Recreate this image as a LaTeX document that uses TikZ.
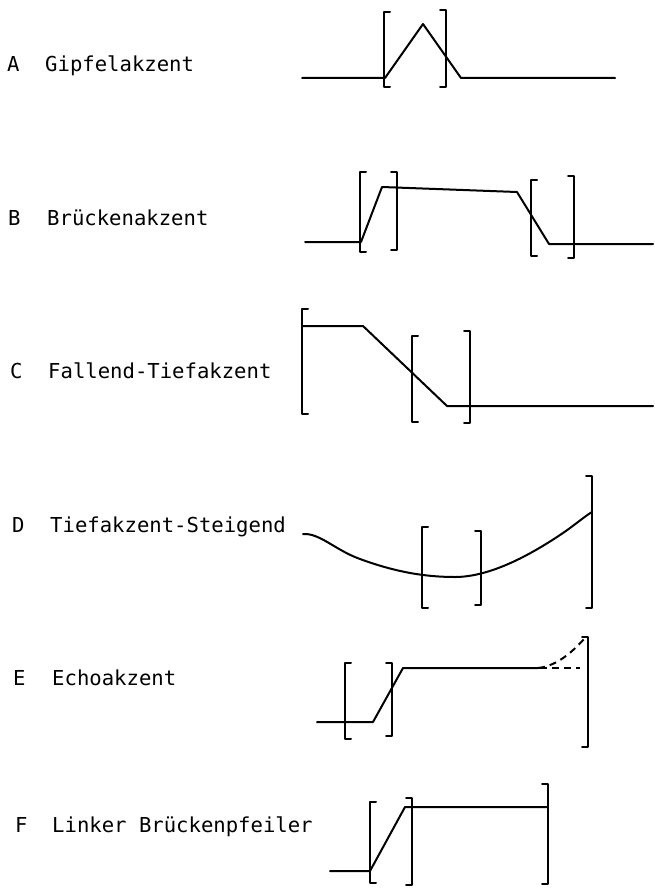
\documentclass[tikz,border=0pt]{standalone}
\usepackage{fontspec}
\setmonofont{DejaVu Sans Mono}
\newcommand\lbrk[3]{\draw[curve] ({#1+6},#2) -- (#1,#2) -- (#1,#3) -- ({#1+6},#3);}
\newcommand\rbrk[3]{\draw[curve] ({#1-6},#2) -- (#1,#2) -- (#1,#3) -- ({#1-6},#3);}
\begin{document}
\begin{tikzpicture}[x=1pt,y=-1pt,
  curve/.style={line width=2pt,line join=round,line cap=round},
  lbl/.style={anchor=base west,inner sep=0pt,font=\fontsize{20.6}{24}\ttfamily}]
\useasboundingbox (0,0) rectangle (654,888);
% labels
\node[lbl] (la) at (7,72) {A};
\node[lbl] (ta) at (45,72) {Gipfelakzent};
\node[lbl] (lb) at (8,225) {B};
\node[lbl] (tb) at (47,225) {Brückenakzent};
\node[lbl] (lc) at (10,378) {C};
\node[lbl] (tc) at (48,378) {Fallend-Tiefakzent};
\node[lbl] (ld) at (12,532) {D};
\node[lbl] (td) at (50,532) {Tiefakzent-Steigend};
\node[lbl] (le) at (13,685) {E};
\node[lbl] (te) at (52,685) {Echoakzent};
\node[lbl] (lf) at (15,832) {F};
\node[lbl] (tf) at (52,832) {Linker Brückenpfeiler};
% A
\draw[curve] (302,78) -- (385,78) -- (423,24) -- (461,78) -- (615,78);
\lbrk{384}{12}{87}
\rbrk{446}{10}{87}
% B
\draw[curve] (305,242) -- (361,242) -- (382,187) -- (517,192) -- (549,244) -- (653,244);
\lbrk{360}{172}{252}
\rbrk{397}{172}{250}
\lbrk{531}{180}{256}
\rbrk{574}{176}{258}
% C
\draw[curve] (302,326) -- (363,326) -- (447,406) -- (653,406);
\lbrk{302}{309}{414}
\lbrk{412}{336}{422}
\rbrk{470}{331}{423}
% D
\draw[curve] (303,534) .. controls (320,533) and (335,550) .. (360,559)
  .. controls (390,570) and (420,577) .. (455,577)
  .. controls (490,577) and (530,555) .. (560,535)
  .. controls (575,525) and (585,516) .. (592,512);
\lbrk{422}{527}{608}
\rbrk{481}{531}{605}
\rbrk{592}{476}{608}
% E
\draw[curve] (317,722) -- (373,722) -- (403,668) -- (538,668);
\draw[curve,line cap=butt,dash pattern=on 7pt off 5pt] (540,668) -- (580,668);
\draw[curve,line cap=butt,dash pattern=on 7pt off 5pt] (538,668) .. controls (558,666) and (574,650) .. (585,638);
\lbrk{345}{663}{739}
\rbrk{392}{663}{736}
\rbrk{588}{637}{747}
% F
\draw[curve] (330,871) -- (370,871) -- (405,807) -- (548,807);
\lbrk{370}{802}{883}
\rbrk{412}{798}{885}
\rbrk{548}{784}{884}
\end{tikzpicture}
\end{document}
